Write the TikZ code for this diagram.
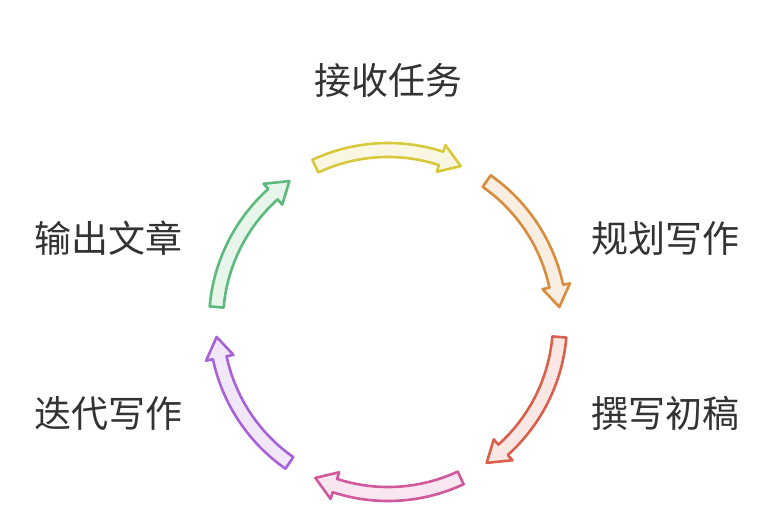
\documentclass[tikz,border=0pt]{standalone}
\usepackage{fontspec}
\newfontfamily\cjk{Noto Sans CJK SC}
\definecolor{cyy}{HTML}{D8C83C}
\definecolor{cyo}{HTML}{D98B3E}
\definecolor{cyr}{HTML}{D9604C}
\definecolor{cyp}{HTML}{D0589C}
\definecolor{cyv}{HTML}{A862D8}
\definecolor{cyg}{HTML}{5CBA7C}
\tikzstyle{step label}=[font=\cjk\fontsize{37}{44}\selectfont,text=black!80,inner sep=0]
\tikzstyle{cyc}=[line width=2.6pt,line join=round]
% curved hollow arrow: start angle, end angle, colour
\newcommand{\cycarrow}[3]{%
  \draw [cyc,draw=#3,fill=#3!15]
    (#1:179) arc[start angle=#1,end angle=#2+7,radius=179]
    -- (#2+7:186) -- (#2:172) -- (#2+7:158) -- (#2+7:165)
    arc[start angle=#2+7,end angle=#1,radius=165] -- cycle;}
\begin{document}
\begin{tikzpicture}[x=1pt,y=1pt]
    \useasboundingbox (0,0) rectangle (776,520);

    \node [step label] (recv) at (388,440) {接收任务};
    \node [step label] (plan) at (665,282) {规划写作};
    \node [step label] (draft) at (665,107) {撰写初稿};
    \node [step label] (iter) at (108,107) {迭代写作};
    \node [step label] (out) at (108,282) {输出文章};

    % the cycle
    \begin{scope}[shift={(388,198)}]
      \cycarrow{115}{65}{cyy}
      \cycarrow{55}{5}{cyo}
      \cycarrow{-5}{-55}{cyr}
      \cycarrow{-65}{-115}{cyp}
      \cycarrow{-125}{-175}{cyv}
      \cycarrow{175}{125}{cyg}
    \end{scope}
\end{tikzpicture}
\end{document}
